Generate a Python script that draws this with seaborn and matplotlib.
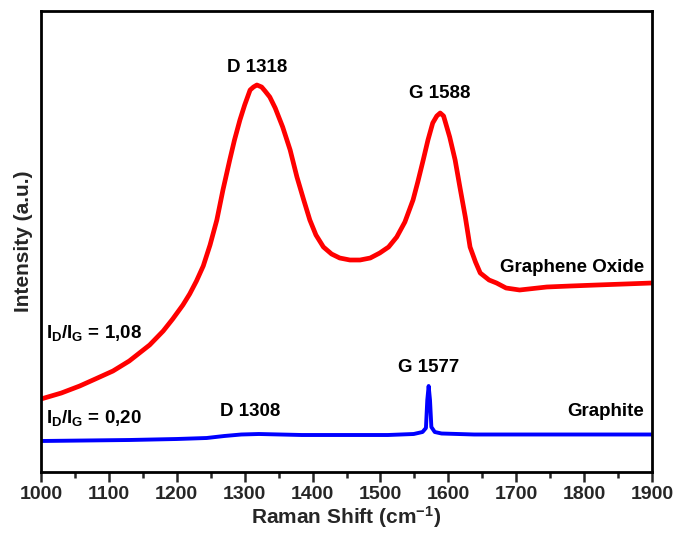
import numpy as np
import pandas as pd
import seaborn as sns
import matplotlib
matplotlib.use("Agg")
import matplotlib.pyplot as plt
from matplotlib.ticker import MultipleLocator

# ---- data (intensity in arbitrary units) ----
go_shift = [1000, 1030, 1057, 1080, 1106, 1130, 1160, 1180, 1194, 1209, 1219, 1229,
            1239, 1249, 1259, 1268,
            1278, 1285, 1293, 1300, 1308, 1313, 1318, 1325, 1330, 1337, 1345, 1356,
            1367, 1377, 1387, 1396, 1405, 1416, 1428, 1440, 1455, 1470, 1485, 1499,
            1512, 1524, 1536, 1548, 1555, 1563, 1570, 1577, 1583, 1588, 1593, 1602,
            1610, 1617, 1625, 1632, 1640, 1647, 1660, 1671, 1685, 1705, 1745, 1780,
            1819, 1860, 1900]
go_int = [73, 79, 86, 93, 101, 111, 127, 141, 153, 167, 178, 191,
          206, 227, 252, 282,
          312, 332, 352, 367, 382, 385, 387, 385, 381, 375, 364, 345,
          322, 295, 272, 252, 237, 225, 218, 214, 212, 212, 214, 219,
          225, 235, 250, 272, 290, 312, 332, 349, 356, 359, 356, 335,
          312, 285, 255, 225, 210, 199, 192, 189, 184, 182, 185, 186,
          187, 188, 189]

gr_shift = [1000, 1130, 1200, 1244, 1270, 1295, 1321, 1384, 1448, 1511, 1549, 1562,
            1567, 1569, 1571, 1573, 1575, 1580, 1590, 1638, 1900]
gr_int = [31, 32, 33, 34, 36, 37.5, 38, 37, 37, 37, 38, 40,
          44, 72, 86, 72, 45, 40, 38.5, 37.5, 37.5]

xticks = [1000, 1100, 1200, 1300, 1400, 1500, 1600, 1700, 1800, 1900]

df_go = pd.DataFrame({"shift": go_shift, "intensity": go_int})
df_gr = pd.DataFrame({"shift": gr_shift, "intensity": gr_int})

sns.set_style("ticks")
plt.rcParams['font.family'] = ['Liberation Sans', 'DejaVu Sans']
plt.rcParams['mathtext.fontset'] = 'custom'
plt.rcParams['mathtext.rm'] = 'Liberation Sans:bold'
plt.rcParams['mathtext.bf'] = 'Liberation Sans:bold'
plt.rcParams['mathtext.it'] = 'Liberation Sans:bold'

fig = plt.figure(figsize=(6.76, 5.37), dpi=100)
ax = fig.add_axes([41/676, 1-472/537, (652-41)/676, (472-11)/537])

sns.lineplot(data=df_go, x="shift", y="intensity", color="#ff0000", lw=3.4, ax=ax)
sns.lineplot(data=df_gr, x="shift", y="intensity", color="#0000ff", lw=2.8, ax=ax)

ax.set_xlim(1000, 1900)
ax.set_ylim(0, 461)
ax.set_xticks(xticks)
ax.set_xticklabels([str(t) for t in xticks])
ax.xaxis.set_minor_locator(MultipleLocator(50))
ax.set_yticks([])
for s in ax.spines.values():
    s.set_visible(True)
    s.set_linewidth(2.0)
    s.set_color("black")
ax.tick_params(axis='x', which='major', direction='out', length=7, width=1.8,
               labelsize=14, pad=3)
ax.tick_params(axis='x', which='minor', direction='out', length=4, width=1.8)
for lbl in ax.get_xticklabels():
    lbl.set_fontweight('bold')

ax.set_xlabel(r"Raman Shift (cm$^{\mathbf{-1}}$)", fontsize=15, fontweight='bold', labelpad=1)
ax.set_ylabel("Intensity (a.u.)", fontsize=15, fontweight='bold', labelpad=6)

kw = dict(fontsize=13.5, fontweight='bold', color='black')
ax.text(1318, 405, "D 1318", ha='center', va='center', **kw)
ax.text(1588, 378, "G 1588", ha='center', va='center', **kw)
ax.text(1888, 205, "Graphene Oxide", ha='right', va='center', **kw)
ax.text(1008, 139, r"I$_{\mathbf{D}}$/I$_{\mathbf{G}}$ = 1,08", ha='left', va='center', **kw)
ax.text(1571, 104, "G 1577", ha='center', va='center', **kw)
ax.text(1308, 60, "D 1308", ha='center', va='center', **kw)
ax.text(1888, 60, "Graphite", ha='right', va='center', **kw)
ax.text(1008, 54, r"I$_{\mathbf{D}}$/I$_{\mathbf{G}}$ = 0,20", ha='left', va='center', **kw)

fig.savefig("out.png", dpi=100)
